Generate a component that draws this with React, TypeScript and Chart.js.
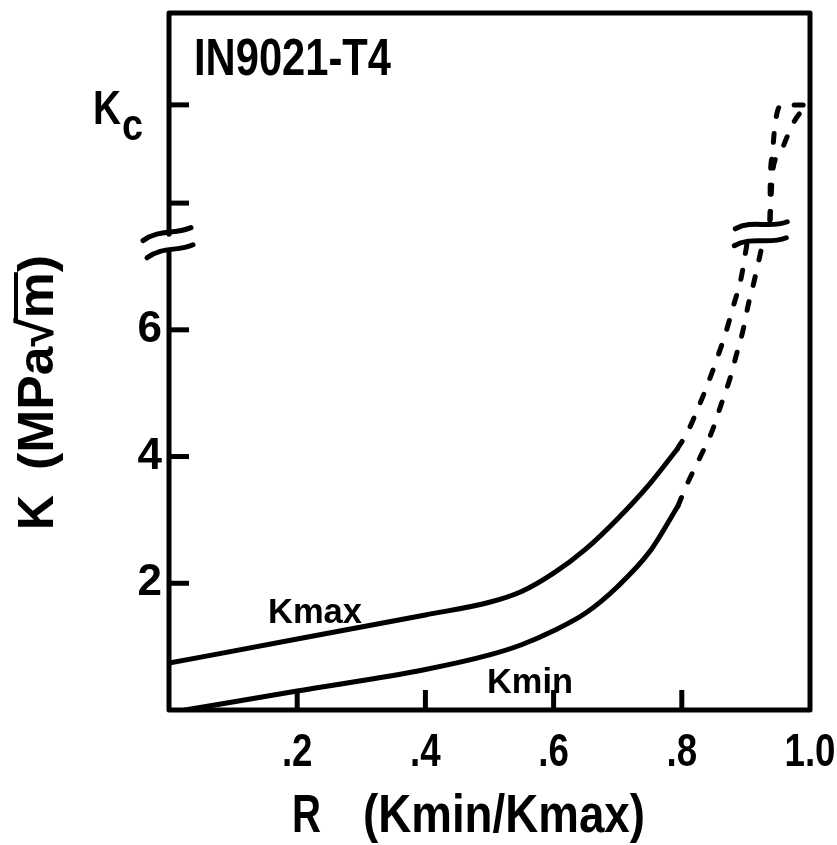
import React, { useEffect, useRef } from 'react';
import { Chart, registerables } from 'chart.js';

Chart.register(...registerables);

const FONT = "'Liberation Sans', Arial, sans-serif";

// Axis ticks
const rTicks = [0.2, 0.4, 0.6, 0.8, 1.0];
const rTickLabels = ['.2', '.4', '.6', '.8', '1.0'];
const kTicks = [2, 4, 6];
const kTickLabels = ['2', '4', '6'];
const kPlainTicks = [8];
const KC = 9.55; // critical stress intensity level

// Kmax, measured part
const kmaxR = [0, 0.2, 0.4, 0.5, 0.55, 0.6, 0.65, 0.7, 0.75, 0.793];
const kmaxK = [0.74, 1.12, 1.5, 1.7, 1.87, 2.16, 2.54, 3.02, 3.57, 4.12];
// Kmin, measured part
const kminR = [0.025, 0.2, 0.4, 0.5, 0.55, 0.6, 0.65, 0.7, 0.75, 0.794];
const kminK = [0, 0.3, 0.64, 0.87, 1.03, 1.25, 1.53, 1.95, 2.5, 3.22];

// Extrapolated parts below the axis break
const kmaxExtR = [0.793, 0.809, 0.826, 0.84, 0.854, 0.869, 0.88, 0.893, 0.902];
const kmaxExtK = [4.12, 4.39, 4.78, 5.13, 5.52, 5.97, 6.36, 6.84, 7.38];
const kminExtR = [0.794, 0.809, 0.83, 0.848, 0.862, 0.876, 0.885, 0.895, 0.904, 0.912, 0.926];
const kminExtK = [3.22, 3.58, 4.02, 4.42, 4.84, 5.26, 5.6, 5.97, 6.41, 6.73, 7.36];

// Extrapolated parts above the break, running up to Kc
const kmaxTopR = [0.9376, 0.938, 0.941, 0.944, 0.9485, 0.956, 1.0];
const kmaxTopK = [7.73, 8.36, 8.72, 9.1, 9.42, KC, KC];
const kminTopR = [0.9376, 0.942, 0.953, 0.964, 0.976, 0.995];
const kminTopK = [7.73, 8.52, 8.78, 9.04, 9.3, KC];

const toPoints = (xs: number[], ys: number[]) => xs.map((x, i) => ({ x, y: ys[i] }));

const INK = '#000';
const LW = 5;

function tilde(ctx: CanvasRenderingContext2D, cx: number, cy: number, w: number, tilt: number, amp: number) {
  const x0 = cx - w / 2;
  const x1 = cx + w / 2;
  const y0 = cy + tilt;
  const y1 = cy - tilt;
  ctx.beginPath();
  ctx.moveTo(x0, y0);
  ctx.bezierCurveTo(x0 + w * 0.33, y0 - amp - tilt, x0 + w * 0.66, y1 + amp + tilt * 0.3, x1, y1);
  ctx.stroke();
}

function fitText(ctx: CanvasRenderingContext2D, text: string, x: number, y: number, width: number, font: string) {
  ctx.save();
  ctx.font = font;
  const w = ctx.measureText(text).width;
  ctx.translate(x, y);
  ctx.scale(width / w, 1);
  ctx.fillText(text, 0, 0);
  ctx.restore();
}

// text squeezed horizontally by a fixed factor, centred on x
function narrowCentered(ctx: CanvasRenderingContext2D, text: string, x: number, y: number, squeeze: number, font: string) {
  ctx.save();
  ctx.font = font;
  const w = ctx.measureText(text).width * squeeze;
  ctx.translate(x - w / 2, y);
  ctx.scale(squeeze, 1);
  ctx.fillText(text, 0, 0);
  ctx.restore();
}

const framePlugin = {
  id: 'frame',
  afterDraw(chart: any) {
    const { ctx, chartArea, scales } = chart;
    const xs = scales.x;
    const ys = scales.y;
    const { left, right, top, bottom } = chartArea;
    ctx.save();
    ctx.strokeStyle = INK;
    ctx.fillStyle = INK;
    ctx.lineWidth = LW;
    ctx.lineCap = 'round';
    ctx.lineJoin = 'round';

    // box with a break in the K axis
    const gapTop = ys.getPixelForValue(7.51);
    const gapBottom = ys.getPixelForValue(7.24);
    ctx.beginPath();
    ctx.moveTo(left, gapTop);
    ctx.lineTo(left, top);
    ctx.lineTo(right, top);
    ctx.lineTo(right, bottom);
    ctx.lineTo(left, bottom);
    ctx.lineTo(left, gapBottom);
    ctx.stroke();
    tilde(ctx, left - 2, gapTop, 48, 6.5, 5);
    tilde(ctx, left + 1, gapBottom, 46, 6.5, 5);

    // break marks on the extrapolated curves
    const bx = xs.getPixelForValue(0.924);
    tilde(ctx, bx, ys.getPixelForValue(7.65), 52, 3.5, 6);
    tilde(ctx, bx - 1, ys.getPixelForValue(7.39), 52, 4, 6);

    // inward tick marks
    const tickLen = 20;
    ctx.lineCap = 'butt';
    for (const v of [...kTicks, ...kPlainTicks, KC]) {
      const y = ys.getPixelForValue(v);
      ctx.beginPath();
      ctx.moveTo(left, y);
      ctx.lineTo(left + tickLen, y);
      ctx.stroke();
    }
    for (const v of rTicks.slice(0, -1)) {
      const x = xs.getPixelForValue(v);
      ctx.beginPath();
      ctx.moveTo(x, bottom);
      ctx.lineTo(x, bottom - tickLen);
      ctx.stroke();
    }

    ctx.textBaseline = 'alphabetic';
    ctx.textAlign = 'left';

    // R tick labels in a narrow face
    rTicks.forEach((v, i) => {
      narrowCentered(ctx, rTickLabels[i], xs.getPixelForValue(v), bottom + 56, 0.78, `bold 47px ${FONT}`);
    });

    // K_c label
    const kcY = ys.getPixelForValue(KC);
    fitText(ctx, 'K', left - 76, kcY + 19, 28, `bold 48px ${FONT}`);
    fitText(ctx, 'c', left - 47, kcY + 35, 21, `bold 44px ${FONT}`);

    // specimen label
    fitText(ctx, 'IN9021-T4', left + 25, top + 62, 197, `bold 52px ${FONT}`);

    // curve labels
    fitText(ctx, 'Kmax', 268, 623, 94, `bold 35px ${FONT}`);
    fitText(ctx, 'Kmin', 487, 693, 86, `bold 35px ${FONT}`);

    // x axis title
    fitText(ctx, 'R', 292, 832, 29, `bold 54px ${FONT}`);
    fitText(ctx, '(Kmin/Kmax)', 363, 832, 282, `bold 54px ${FONT}`);

    // y axis title, rotated
    ctx.save();
    ctx.translate(53, 530);
    ctx.rotate(-Math.PI / 2);
    const yFont = `bold 50px ${FONT}`;
    fitText(ctx, 'K', 0, 0, 35, yFont);
    ctx.font = yFont;
    const full = '(MPa\u221Am)';
    const fullW = ctx.measureText(full).width;
    const sx = 215 / fullW;
    fitText(ctx, full, 60, 0, 215, yFont);
    const preW = ctx.measureText('(MPa\u221A').width * sx;
    const mW = ctx.measureText('m').width * sx;
    ctx.lineWidth = 4;
    ctx.beginPath();
    ctx.moveTo(60 + preW - 4, -37);
    ctx.lineTo(60 + preW + mW, -37);
    ctx.stroke();
    ctx.restore();

    ctx.restore();
  },
};

export default function App() {
  const ref = useRef<HTMLCanvasElement | null>(null);

  useEffect(() => {
    document.body.style.margin = '0';
    const canvas = ref.current;
    if (!canvas) return;

    const solid = (xs: number[], ys: number[]) => ({
      data: toPoints(xs, ys),
      borderColor: INK,
      borderWidth: LW,
      pointRadius: 0,
      fill: false,
      cubicInterpolationMode: 'monotone' as const,
      borderCapStyle: 'round' as const,
    });
    const dashed = (xs: number[], ys: number[]) => ({
      ...solid(xs, ys),
      borderDash: [9, 17],
    });

    const chart = new Chart(canvas, {
      type: 'line',
      data: {
        datasets: [
          { label: 'Kmax', ...solid(kmaxR, kmaxK) },
          { label: 'Kmin', ...solid(kminR, kminK) },
          { label: 'Kmax extrapolated', ...dashed(kmaxExtR, kmaxExtK) },
          { label: 'Kmin extrapolated', ...dashed(kminExtR, kminExtK) },
          { label: 'Kmax to Kc', ...dashed(kmaxTopR, kmaxTopK) },
          { label: 'Kmin to Kc', ...dashed(kminTopR, kminTopK) },
        ],
      },
      options: {
        animation: false,
        responsive: false,
        maintainAspectRatio: false,
        layout: { padding: { top: 13, right: 27, left: 0, bottom: 0 } },
        plugins: { legend: { display: false }, tooltip: { enabled: false } },
        scales: {
          x: {
            type: 'linear',
            min: 0,
            max: 1,
            grid: { display: false, drawTicks: false },
            border: { display: false },
            afterBuildTicks: (s: any) => {
              s.ticks = rTicks.map((v) => ({ value: v }));
            },
            afterFit: (s: any) => {
              s.height = 135;
              s.paddingLeft = 0;
              s.paddingRight = 0;
            },
            ticks: { display: false },
          },
          y: {
            type: 'linear',
            min: 0,
            max: 11,
            grid: { display: false, drawTicks: false },
            border: { display: false },
            afterBuildTicks: (s: any) => {
              s.ticks = kTicks.map((v) => ({ value: v }));
            },
            afterFit: (s: any) => {
              s.width = 169;
              s.paddingTop = 0;
              s.paddingBottom = 0;
            },
            ticks: {
              autoSkip: false,
              padding: 7,
              color: INK,
              font: { family: FONT, size: 44, weight: 'bold' },
              callback: (v: any) => {
                const i = kTicks.findIndex((t) => Math.abs(t - Number(v)) < 1e-6);
                return i >= 0 ? kTickLabels[i] : '';
              },
            },
          },
        },
      },
      plugins: [framePlugin],
    });

    return () => chart.destroy();
  }, []);

  return (
    <div style={{ width: 837, height: 845, background: '#fff' }}>
      <canvas ref={ref} width={837} height={845} style={{ display: 'block' }} />
    </div>
  );
}
